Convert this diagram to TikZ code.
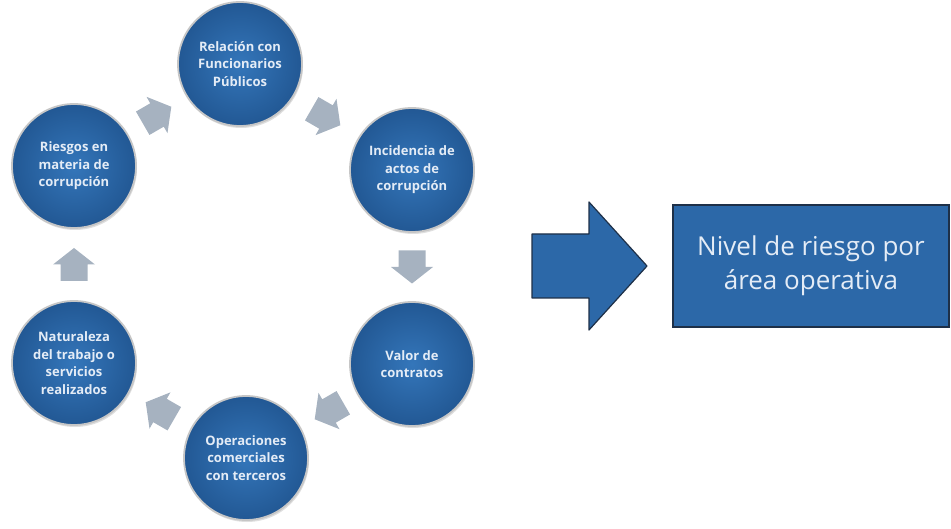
\documentclass[tikz,border=0pt]{standalone}
\usepackage{fontspec}
\setmainfont{Open Sans}
\usepackage{tikz}
\usetikzlibrary{calc, shadows}

\definecolor{azul}{RGB}{44,104,168}
\definecolor{azulclaro}{RGB}{52,118,186}
\definecolor{azuloscuro}{RGB}{34,88,148}
\definecolor{gris}{RGB}{166,178,192}
\definecolor{borde}{RGB}{30,48,72}
\definecolor{textoclaro}{RGB}{228,236,246}

\begin{document}
\begin{tikzpicture}[x=1pt, y=-1pt,
		circulo/.style={circle, minimum size=124pt, inner sep=0pt, draw=gray!45, line width=1.8pt, inner color=azulclaro, outer color=azuloscuro, text=textoclaro, align=center, font=\fontsize{13}{17.5}\selectfont\bfseries, drop shadow={opacity=0.25, shadow xshift=1pt, shadow yshift=-2pt}},
		caja/.style={rectangle, minimum width=276pt, minimum height=122pt, fill=azul, draw=borde, line width=1.2pt, text=textoclaro, align=center, font=\fontsize{26}{34}\selectfont},
		flecha/.pic={\fill[gris] (-16.5,-13.5) -- (0,-13.5) -- (0,-21) -- (16.5,0) -- (0,21) -- (0,13.5) -- (-16.5,13.5) -- cycle;}]
		\useasboundingbox (0,0) rectangle (951,529);
		\node[circulo] (relacion) at (240,64) {Relación con\\Funcionarios\\Públicos};
		\node[circulo] (incidencia) at (412,170) {Incidencia de\\actos de\\corrupción};
		\node[circulo] (valor) at (412,364) {Valor de\\contratos};
		\node[circulo] (operaciones) at (246,458) {Operaciones\\comerciales\\con terceros};
		\node[circulo] (naturaleza) at (74,363) {Naturaleza\\del trabajo o\\servicios\\realizados};
		\node[circulo] (riesgos) at (74,166) {Riesgos en\\materia de\\corrupción};

		\foreach \a/\b/\ang in {riesgos/relacion/30, relacion/incidencia/-30, incidencia/valor/-90, valor/operaciones/-150, operaciones/naturaleza/150, naturaleza/riesgos/90}
			\pic[rotate=\ang] at ($(\a)!0.5!(\b)$) {flecha};

		\draw[fill=azul, draw=borde, line width=1.2pt, line join=round] (532,234) -- (589,234) -- (589,202) -- (647,266) -- (589,330) -- (589,298) -- (532,298) -- cycle;
		\node[caja] (nivel) at (811,266) {Nivel de riesgo por\\área operativa};
	\end{tikzpicture}
\end{document}
